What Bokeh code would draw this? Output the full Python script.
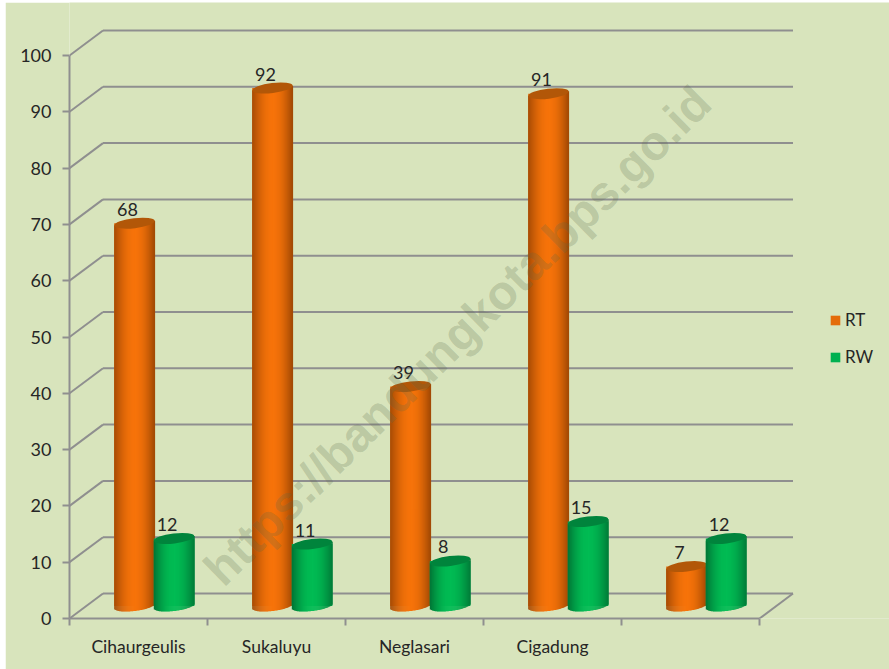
import math
from bokeh.plotting import figure
from bokeh.embed import file_html
from bokeh.resources import INLINE
from bokeh.models import (ColumnDataSource, FixedTicker, Label, Legend, LegendItem,
                          LinearAxis, Range1d)
from bokeh.core.properties import value

categories = ["Cihaurgeulis", "Sukaluyu", "Neglasari", "Cigadung", ""]
rt_values = [68, 92, 39, 91, 7]
rw_values = [12, 11, 8, 15, 12]
y_ticks = [0, 10, 20, 30, 40, 50, 60, 70, 80, 90, 100]

BG = "#d8e4bc"
GRID = "#8f8f8f"
INK = "#262626"
FONT = "Lato"

PX_X = 138.0            # pixels per category
PX_Y = 5.63             # pixels per value unit
PAGE_LEFT, PAGE_TOP = 5, 2
FRAME_LEFT, FRAME_RIGHT = 69, 889
FRAME_TOP, FRAME_BOTTOM = PAGE_TOP, 618
W, H = 889 - PAGE_LEFT, 669 - PAGE_TOP
DEPTH_X = 33.5 / PX_X
DEPTH_Y = 25 / PX_Y
HALF_BAR = 20.3 / PX_X
BAR_OFF = 19.8 / PX_X
BAR_SHIFT = 15.8 / PX_X
TILT = 2.4 / PX_Y
MINOR = 5.0 / PX_Y
N_STRIPS = 41

p = figure(width=W, height=H, output_backend="svg", toolbar_location=None,
           x_range=Range1d(0, (FRAME_RIGHT - FRAME_LEFT) / PX_X),
           y_range=Range1d(0, (FRAME_BOTTOM - FRAME_TOP) / PX_Y),
           x_axis_type=None, y_axis_type=None,
           min_border_left=FRAME_LEFT - PAGE_LEFT, min_border_right=0,
           min_border_top=0, min_border_bottom=669 - FRAME_BOTTOM,
           background_fill_color=BG, border_fill_color=BG, outline_line_color=None,
           styles={"margin-left": f"{PAGE_LEFT}px", "margin-top": f"{PAGE_TOP}px"})
p.grid.visible = False

n_cat = len(categories)

# walls
p.segment(x0=[0] * len(y_ticks), y0=y_ticks,
          x1=[DEPTH_X] * len(y_ticks), y1=[t + DEPTH_Y for t in y_ticks],
          line_color=GRID, line_width=2, line_alpha=1)
p.segment(x0=[DEPTH_X] * len(y_ticks), y0=[t + DEPTH_Y for t in y_ticks],
          x1=[n_cat + DEPTH_X] * len(y_ticks), y1=[t + DEPTH_Y for t in y_ticks],
          line_color=GRID, line_width=2, line_alpha=1)
p.segment(x0=[n_cat], y0=[0], x1=[n_cat + DEPTH_X], y1=[DEPTH_Y], line_color=GRID, line_width=2,
          line_alpha=1)

# axes
ya = LinearAxis(ticker=FixedTicker(ticks=y_ticks), bounds=(0, 100))
ya.axis_line_color = GRID
ya.axis_line_width = 2
ya.major_tick_line_color = GRID
ya.major_tick_line_width = 2
ya.major_tick_in = 0
ya.major_tick_out = 7
ya.minor_tick_line_color = None
ya.major_label_standoff = 11
ya.major_label_text_font = FONT
ya.major_label_text_font_size = "18px"
ya.major_label_text_color = INK
p.add_layout(ya, "left")

centers = [i + 0.5 for i in range(n_cat)]
xa = LinearAxis(ticker=FixedTicker(ticks=centers, minor_ticks=list(range(n_cat + 1))),
                bounds=(0, n_cat))
xa.major_label_overrides = {c: categories[i] for i, c in enumerate(centers)}
xa.axis_line_color = GRID
xa.axis_line_width = 2
xa.major_tick_line_color = None
xa.major_tick_in = 0
xa.major_tick_out = 0
xa.minor_tick_line_color = GRID
xa.minor_tick_line_width = 2
xa.minor_tick_in = 0
xa.minor_tick_out = 7
xa.major_label_standoff = 10
xa.major_label_text_font = FONT
xa.major_label_text_font_size = "17.5px"
xa.major_label_text_color = INK
p.add_layout(xa, "below")


def lerp(c0, c1, w):
    return "#%02x%02x%02x" % tuple(round(a + (b - a) * w) for a, b in zip(c0, c1))


def cylinders(values, offset, flat, edge, mid, cap):
    xs = [c + BAR_SHIFT + offset for c in centers]
    base = DEPTH_Y / 2
    solid = p.quad(left=[x - HALF_BAR for x in xs], right=[x + HALF_BAR for x in xs],
                   top=[base + v for v in values], bottom=[base] * len(values),
                   fill_color=flat, fill_alpha=1, line_color=None)
    data = dict(left=[], right=[], top=[], bottom=[], color=[])
    for x, v in zip(xs, values):
        for k in range(N_STRIPS):
            t0 = -1 + 2 * k / N_STRIPS
            t1 = -1 + 2 * (k + 1) / N_STRIPS
            t = (t0 + t1) / 2
            round_ = math.sqrt(max(0.0, 1 - t * t))
            data["left"].append(x + t0 * HALF_BAR)
            data["right"].append(x + t1 * HALF_BAR + 0.3 / PX_X)
            data["top"].append(base + v + t * TILT)
            data["bottom"].append(base + t * TILT - MINOR * round_)
            data["color"].append(lerp(edge, mid, round_ ** 2.2))
    p.quad(left="left", right="right", top="top", bottom="bottom", source=ColumnDataSource(data),
           fill_color="color", fill_alpha=1, line_color=None)
    p.ellipse(x=xs, y=[base + v for v in values], width=2 * HALF_BAR * PX_X, height=2 * 5.0,
              angle=math.atan(TILT * PX_Y / (HALF_BAR * PX_X)),
              width_units="screen", height_units="screen", fill_color=cap, fill_alpha=1,
              line_color=None)
    labels = ColumnDataSource(dict(x=xs, y=[base + v for v in values],
                                   t=[str(v) for v in values]))
    p.text(x="x", y="y", text="t", source=labels, x_offset=-7, y_offset=-14,
           text_align="center", text_baseline="middle",
           text_font=value(FONT), text_font_size="18px", text_color=INK)
    return solid


rt_r = cylinders(rt_values, -BAR_OFF, "#e46c0a", (160, 72, 4), (246, 115, 10), "#b25708")
rw_r = cylinders(rw_values, BAR_OFF, "#00b050", (0, 118, 54), (0, 188, 84), "#00843c")

legend = Legend(items=[LegendItem(label="RT", renderers=[rt_r]),
                       LegendItem(label="RW", renderers=[rw_r])],
                location=(829 - FRAME_LEFT, FRAME_BOTTOM - 367), orientation="vertical",
                background_fill_alpha=0, border_line_color=None,
                glyph_width=12, glyph_height=12, spacing=16, padding=0, margin=0,
                label_standoff=4, label_text_font=FONT, label_text_font_size="17px",
                label_text_color=INK, label_height=20)
p.add_layout(legend, "center")

wm = Label(x=(457 - FRAME_LEFT) / PX_X, y=(FRAME_BOTTOM - 335) / PX_Y,
           text="https://bandungkota.bps.go.id", angle=44.5, angle_units="deg",
           text_font="Liberation Sans", text_font_style="bold", text_font_size="48px",
           text_color="#5a6a4a", text_alpha=0.24, text_align="center", text_baseline="middle")
p.add_layout(wm)

open("out.html", "w").write(file_html(p, INLINE))
